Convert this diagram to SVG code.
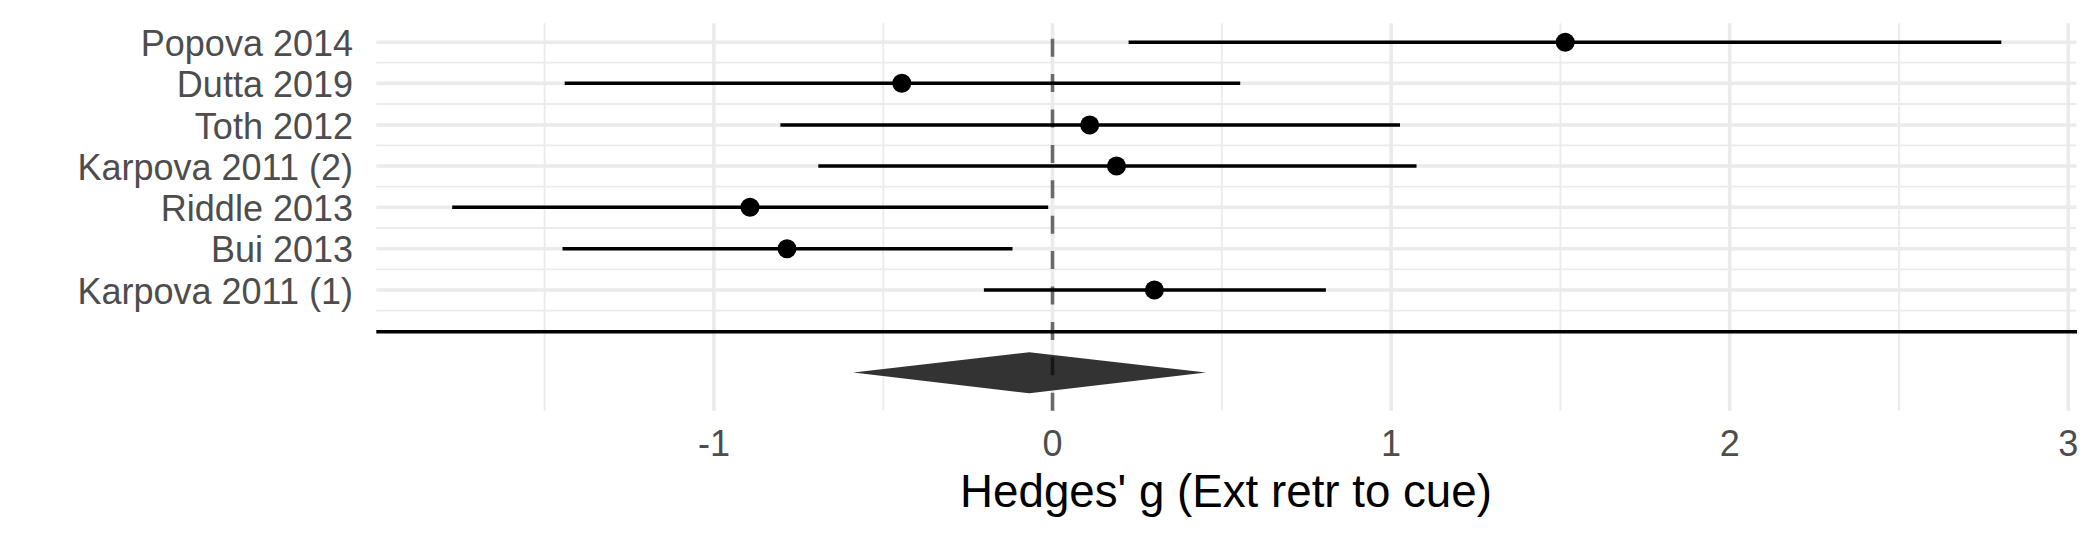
<svg xmlns="http://www.w3.org/2000/svg" width="2100" height="540" viewBox="0 0 2100 540">
<style>
.gmaj{stroke:#EBEBEB;stroke-width:3.6;fill:none}
.gmin{stroke:#EBEBEB;stroke-width:1.8;fill:none}
.ci{stroke:#000;stroke-width:3.4;fill:none}
.pt{fill:#000}
.ylab{font-family:"Liberation Sans",Arial,sans-serif;font-size:36px;fill:#4D4D4D;text-anchor:end}
.xlab{font-family:"Liberation Sans",Arial,sans-serif;font-size:36px;fill:#4D4D4D;text-anchor:middle}
.title{font-family:"Liberation Sans",Arial,sans-serif;font-size:45.7px;fill:#000;text-anchor:middle}
</style>
<rect width="2100" height="540" fill="#fff"/>
<g id="grid">
<path class="gmin" d="M376.3 62.7H2076.4M376.3 104H2076.4M376.3 145.3H2076.4M376.3 186.7H2076.4M376.3 228H2076.4M376.3 269.3H2076.4M376.3 310.7H2076.4"/>
<path class="gmin" d="M544.6 23.3V410.7M883.2 23.3V410.7M1221.8 23.3V410.7M1560.4 23.3V410.7M1899 23.3V410.7"/>
<path class="gmaj" d="M376.3 42.3H2076.4M376.3 83.3H2076.4M376.3 125H2076.4M376.3 166H2076.4M376.3 207.3H2076.4M376.3 248.7H2076.4M376.3 290H2076.4"/>
<path class="gmaj" d="M713.9 23.3V410.7M1052.5 23.3V410.7M1391.1 23.3V410.7M1729.7 23.3V410.7M2068.3 23.3V410.7"/>
</g>
<g id="connectors">
<line class="ci" x1="1128.6" y1="42.3" x2="2001.3" y2="42.3"/>
<line class="ci" x1="564.7" y1="83.3" x2="1240.2" y2="83.3"/>
<line class="ci" x1="780.4" y1="125" x2="1400" y2="125"/>
<line class="ci" x1="818.3" y1="166" x2="1416.5" y2="166"/>
<line class="ci" x1="452.2" y1="207.3" x2="1048.2" y2="207.3"/>
<line class="ci" x1="562.5" y1="248.7" x2="1012.5" y2="248.7"/>
<line class="ci" x1="983.9" y1="290" x2="1325.9" y2="290"/>
<line id="axis-line" x1="376.3" y1="331.7" x2="2077" y2="331.7" stroke="#000" stroke-width="3.5"/>
</g>
<g id="popova-2014"><circle class="pt" cx="1565.2" cy="42.3" r="9.5"/><text class="ylab" x="353" y="56">Popova 2014</text></g>
<g id="dutta-2019"><circle class="pt" cx="901.8" cy="83.3" r="9.5"/><text class="ylab" x="353" y="97">Dutta 2019</text></g>
<g id="toth-2012"><circle class="pt" cx="1089.7" cy="125" r="9.5"/><text class="ylab" x="353" y="138.7">Toth 2012</text></g>
<g id="karpova-2011-2"><circle class="pt" cx="1116.5" cy="166" r="9.5"/><text class="ylab" x="353" y="179.7">Karpova 2011 (2)</text></g>
<g id="riddle-2013"><circle class="pt" cx="750" cy="207.3" r="9.5"/><text class="ylab" x="353" y="221">Riddle 2013</text></g>
<g id="bui-2013"><circle class="pt" cx="787" cy="248.7" r="9.5"/><text class="ylab" x="353" y="262.4">Bui 2013</text></g>
<g id="karpova-2011-1"><circle class="pt" cx="1154.4" cy="290" r="9.5"/><text class="ylab" x="353" y="303.7">Karpova 2011 (1)</text></g>
<g id="summary"><polygon points="853.3,372.5 1029.3,352.3 1206,372.5 1029.3,393.3" fill="#333333"/></g>
<g id="zero-line"><line x1="1052.5" y1="410.7" x2="1052.5" y2="23.3" stroke="#000" stroke-opacity="0.55" stroke-width="3.6" stroke-dasharray="18 17.4"/></g>
<g id="x-axis">
<text class="xlab" x="713.9" y="456">-1</text>
<text class="xlab" x="1052.5" y="456">0</text>
<text class="xlab" x="1391.1" y="456">1</text>
<text class="xlab" x="1729.7" y="456">2</text>
<text class="xlab" x="2068.3" y="456">3</text>
<text class="title" x="1226" y="507">Hedges' g (Ext retr to cue)</text>
</g>
</svg>
